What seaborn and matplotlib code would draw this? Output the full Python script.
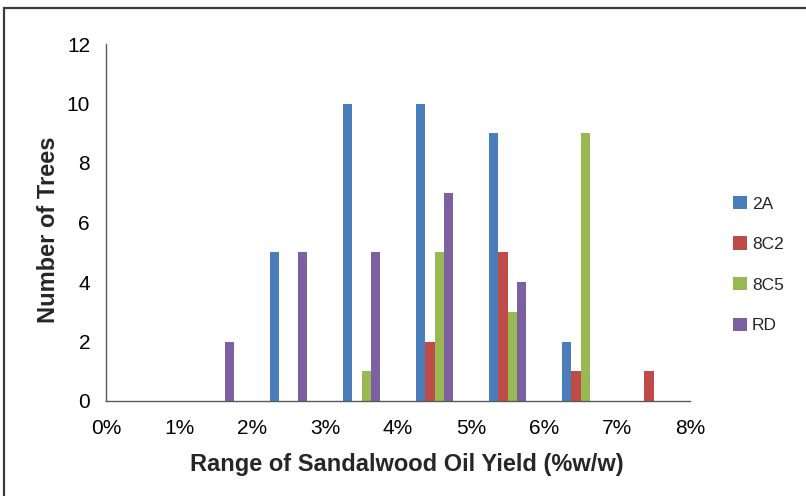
import matplotlib
matplotlib.use("Agg")
import matplotlib.pyplot as plt
import seaborn as sns
import pandas as pd
from matplotlib.patches import Patch, Rectangle

# Oil-yield bins (each 1 %w/w wide) and tree counts per clone
bins = ["0-1%", "1-2%", "2-3%", "3-4%", "4-5%", "5-6%", "6-7%", "7-8%"]
series_2a = [0, 0, 5, 10, 10, 9, 2, 0]
series_8c2 = [0, 0, 0, 0, 2, 5, 1, 1]
series_8c5 = [0, 0, 0, 1, 5, 3, 9, 0]
series_rd = [0, 2, 5, 5, 7, 4, 0, 0]
series_names = ["2A", "8C2", "8C5", "RD"]
tick_labels = ["0%", "1%", "2%", "3%", "4%", "5%", "6%", "7%", "8%"]
colors = ["#4A7EBB", "#BE4B48", "#98B954", "#7D60A0"]

rows = []
for name, vals in zip(series_names, [series_2a, series_8c2, series_8c5, series_rd]):
    for b, v in zip(bins, vals):
        rows.append({"bin": b, "clone": name, "trees": v})
df = pd.DataFrame(rows)

sns.set_style("white")
plt.rcParams["font.family"] = ["Liberation Sans", "DejaVu Sans"]

W, H = 806, 496
fig = plt.figure(figsize=(W / 100, H / 100), dpi=100)
ax = fig.add_axes([106 / W, 1 - 401 / H, (690 - 106) / W, (401 - 44) / H])

sns.barplot(data=df, x="bin", y="trees", hue="clone", order=bins,
            hue_order=series_names, palette=colors, width=0.5,
            saturation=1, linewidth=0, ax=ax, legend=False)

ax.set_xlim(-0.5, len(bins) - 0.5)
ax.set_ylim(0, 12)
ax.set_xticks([i - 0.5 for i in range(len(tick_labels))])
ax.set_xticklabels(tick_labels)
ax.set_yticks(range(0, 13, 2))

axis_color = "#595959"
for side in ["top", "right"]:
    ax.spines[side].set_visible(False)
for side in ["left", "bottom"]:
    ax.spines[side].set_color(axis_color)
    ax.spines[side].set_linewidth(1.0)
ax.tick_params(axis="both", direction="out", length=5, width=1.0,
               color=axis_color, labelsize=15, labelcolor="#000000")
ax.tick_params(axis="x", pad=8)
ax.tick_params(axis="y", pad=6.5)

ax.set_xlabel("Range of Sandalwood Oil Yield (%w/w)", fontsize=17,
              fontweight="bold")
ax.xaxis.set_label_coords(0.5146, -0.147)
ax.set_ylabel("Number of Trees", fontsize=17, fontweight="bold")
ax.yaxis.set_label_coords(-0.079, 0.4804)

handles = [Patch(facecolor=c, edgecolor="none", label=n)
           for c, n in zip(colors, series_names)]
fig.legend(handles=handles, loc="upper left",
           bbox_to_anchor=(733 / W, 1 - 196 / H), frameon=False,
           fontsize=12.5, handlelength=0.8, handleheight=0.8,
           handletextpad=0.3, labelspacing=1.43, borderpad=0,
           borderaxespad=0)

# Chart-area border
fig.add_artist(Rectangle((4 / W, -0.1), 1.2, 1 - 8 / H + 0.1,
                         transform=fig.transFigure, fill=False,
                         edgecolor="#3a3a3a", linewidth=1.6))

fig.savefig("out.png", dpi=100)
